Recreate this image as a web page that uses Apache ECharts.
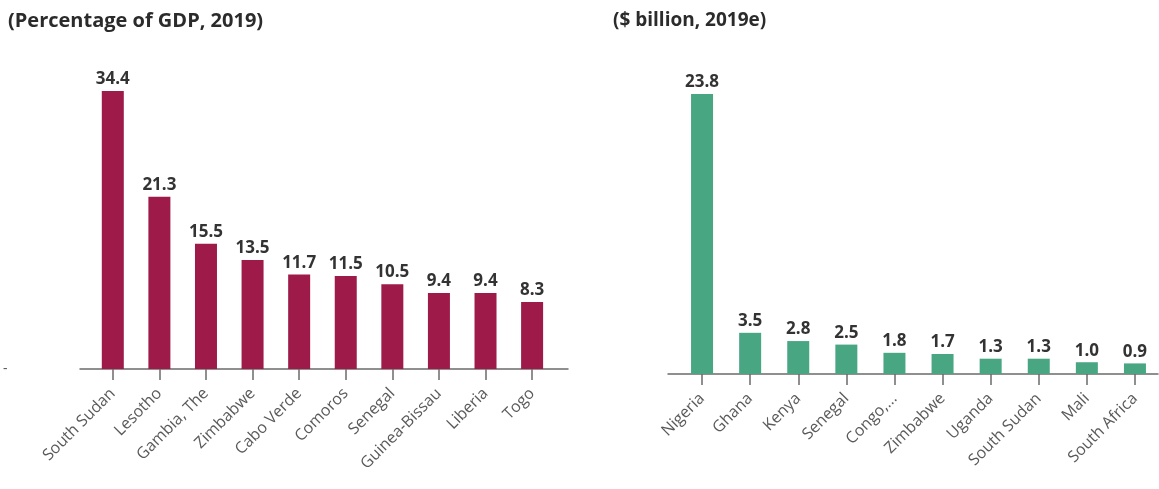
<!DOCTYPE html>
<html>
<head>
<meta charset="utf-8">
<script src="https://cdn.jsdelivr.net/npm/echarts@6/dist/echarts.min.js"></script>
<style>
  html, body { margin: 0; padding: 0; background: #ffffff; }
  #chart { width: 1159px; height: 489px; }
</style>
</head>
<body>
<div id="chart"></div>
<script>
// Left panel: remittances as a share of GDP
const gdpTitle = '(Percentage of GDP, 2019)';
const gdpCountries = ['South Sudan', 'Lesotho', 'Gambia, The', 'Zimbabwe', 'Cabo Verde',
  'Comoros', 'Senegal', 'Guinea-Bissau', 'Liberia', 'Togo'];
const gdpShares = [34.4, 21.3, 15.5, 13.5, 11.7, 11.5, 10.5, 9.4, 9.4, 8.3];

// Right panel: remittance inflows in US$ billion
const usdTitle = '($ billion, 2019e)';
const usdCountries = ['Nigeria', 'Ghana', 'Kenya', 'Senegal', 'Congo,...', 'Zimbabwe',
  'Uganda', 'South Sudan', 'Mali', 'South Africa'];
const usdValues = [23.8, 3.5, 2.8, 2.5, 1.8, 1.7, 1.3, 1.3, 1.0, 0.9];

const FONT = '"Open Sans", "DejaVu Sans", sans-serif';
const AXIS_GREY = '#6b6b6b';

function barSeries(idx, data, color) {
  return {
    type: 'bar',
    xAxisIndex: idx,
    yAxisIndex: idx,
    data: data,
    barWidth: 22,
    itemStyle: { color: color },
    label: {
      show: true,
      position: 'top',
      distance: 3,
      formatter: p => p.value.toFixed(1),
      fontFamily: FONT,
      fontWeight: 'bold',
      fontSize: 17,
      color: '#333333'
    }
  };
}

function catAxis(grid, cats) {
  return {
    type: 'category',
    gridIndex: grid,
    data: cats,
    axisLine: { show: false },
    axisTick: { show: true, alignWithLabel: true, length: 11,
      lineStyle: { color: AXIS_GREY, width: 1.5 } },
    axisLabel: { rotate: 45, margin: 22, fontFamily: FONT, fontSize: 16, color: '#5a5a5a' }
  };
}

// plain baseline axes that run a little past the outer bars
function baseAxis(grid) {
  return {
    type: 'category',
    gridIndex: grid,
    data: [''],
    axisLine: { show: true, lineStyle: { color: AXIS_GREY, width: 1.5 } },
    axisTick: { show: false },
    axisLabel: { show: false }
  };
}

function hiddenValueAxis(grid, max) {
  return {
    type: 'value', gridIndex: grid, min: 0, max: max,
    axisLine: { show: false }, axisTick: { show: false },
    axisLabel: { show: false }, splitLine: { show: false }
  };
}

const chart = echarts.init(document.getElementById('chart'), null, { renderer: 'canvas' });

chart.setOption({
  backgroundColor: '#ffffff',
  animation: false,
  title: [
    { text: gdpTitle, left: 3, top: 6,
      textStyle: { fontFamily: FONT, fontWeight: 'bold', fontSize: 20, color: '#2b2b2b' } },
    { text: usdTitle, left: 608, top: 6,
      textStyle: { fontFamily: FONT, fontWeight: 'bold', fontSize: 19, color: '#2b2b2b' } }
  ],
  grid: [
    { left: 87.6, right: 603.6, top: 91, bottom: 120 },
    { left: 678, right: 0, top: 94, bottom: 115 },
    { left: 80, right: 591, top: 91, bottom: 120 },
    { left: 668, right: 1, top: 94, bottom: 115 }
  ],
  xAxis: [
    catAxis(0, gdpCountries),
    catAxis(1, usdCountries),
    baseAxis(2),
    baseAxis(3)
  ],
  yAxis: [
    {
      type: 'value', gridIndex: 0, min: 0, max: 34.4, interval: 34.4,
      axisLine: { show: false }, axisTick: { show: false }, splitLine: { show: false },
      axisLabel: {
        show: true, margin: 82, fontFamily: FONT, fontSize: 14, color: '#555555',
        formatter: v => (v === 0 ? '-' : '')
      }
    },
    hiddenValueAxis(1, 23.8),
    hiddenValueAxis(2, 34.4),
    hiddenValueAxis(3, 23.8)
  ],
  series: [
    barSeries(0, gdpShares, '#9e1b49'),
    barSeries(1, usdValues, '#48a683')
  ]
});
</script>
</body>
</html>
